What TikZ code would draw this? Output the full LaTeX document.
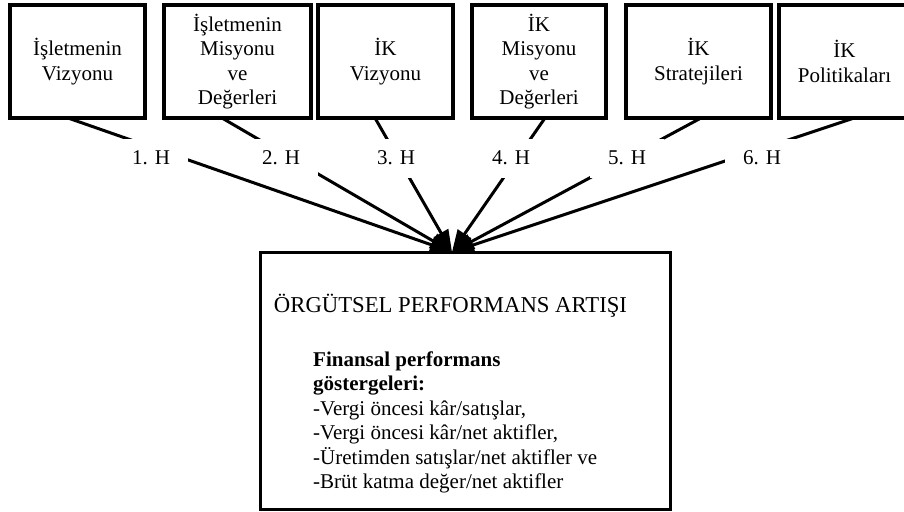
\documentclass[tikz,border=0pt]{standalone}
\usepackage{fontspec}
\setmainfont{Liberation Serif}
\usetikzlibrary{arrows.meta}
\begin{document}
\begin{tikzpicture}[x=1pt,y=-1pt,
  txt/.style={font=\fontsize{21}{24.5}\selectfont},
  topbox/.style={draw, line width=3.5pt, align=center, txt, inner sep=0pt, outer sep=0pt, minimum height=113pt},
  conn/.style={line width=3pt, -{Triangle[length=22pt,width=16pt]}},
  lab/.style={fill=white, txt, minimum width=74pt, minimum height=39pt, inner sep=0pt}]
\useasboundingbox (0,0) rectangle (904,511);
% top boxes
\node[topbox, minimum width=135pt] (b1) at (77.5,61.5) {İşletmenin\\Vizyonu};
\node[topbox, minimum width=147pt] (b2) at (237.5,61.5) {İşletmenin\\Misyonu\\ve\\Değerleri};
\node[topbox, minimum width=135pt] (b3) at (385.5,61.5) {İK\\Vizyonu};
\node[topbox, minimum width=134pt] (b4) at (539,61.5) {İK\\Misyonu\\ve\\Değerleri};
\node[topbox, minimum width=145pt] (b5) at (698.5,61.5) {İK\\Stratejileri};
\node[topbox, minimum width=131pt] (b6) at (844.5,61.5) {İK\\Politikaları};
% result box
\node[draw, line width=3pt, minimum width=410pt, minimum height=257pt, inner sep=0pt, outer sep=0pt] (res) at (465,380.5) {};
\node[anchor=base, inner sep=0pt, font=\fontsize{22.7}{24.5}\selectfont] (title) at (450.5,312) {ÖRGÜTSEL PERFORMANS ARTIŞI};
\node[txt, anchor=north west, align=left, inner sep=0pt] (fin) at (313,351.5)
  {\textbf{Finansal performans}\\\textbf{göstergeleri:}\\-Vergi öncesi kâr/satışlar,\\-Vergi öncesi kâr/net aktifler,\\-Üretimden satışlar/net aktifler ve\\-Brüt katma değer/net aktifler};
\coordinate (tgt) at ([xshift=-13pt]res.north);
% connectors
\draw[conn] ([xshift=-9.5pt]b1.south) -- (tgt);
\draw[conn] ([xshift=-15.5pt]b2.south) -- (tgt);
\draw[conn] ([xshift=-10.5pt]b3.south) -- (tgt);
\draw[conn] ([xshift=6pt]b4.south) -- (tgt);
\draw[conn] ([xshift=2.5pt]b5.south) -- (tgt);
\draw[conn] ([xshift=9.5pt]b6.south) -- (tgt);
% labels
\node[lab] (l1) at (151,158) {1. H};
\node[lab] (l2) at (281,158) {2. H};
\node[lab] (l3) at (396,158) {3. H};
\node[lab] (l4) at (511,158) {4. H};
\node[lab] (l5) at (627,158) {5. H};
\node[lab] (l6) at (762,158) {6. H};
\end{tikzpicture}
\end{document}
